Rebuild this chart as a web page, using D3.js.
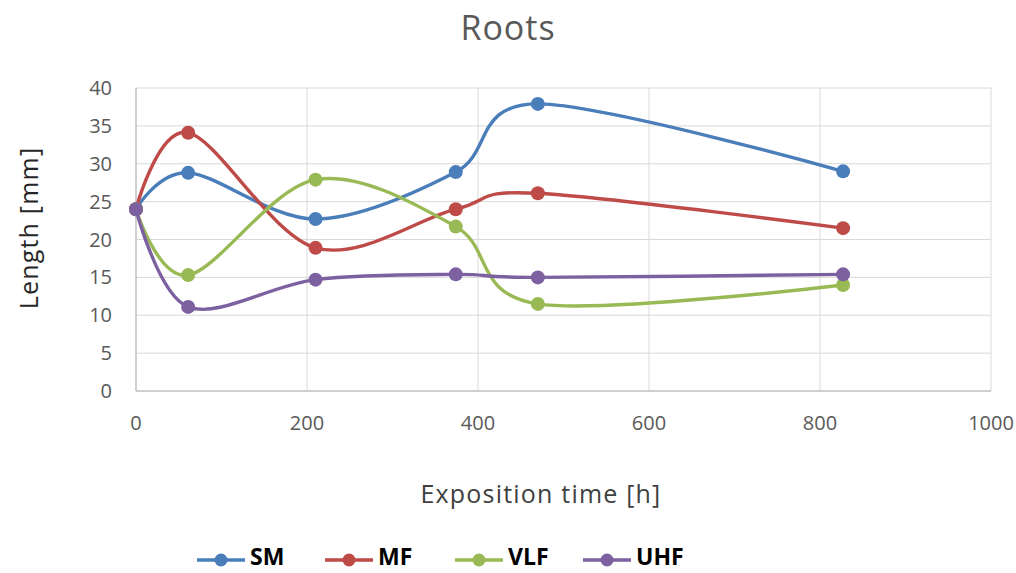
<!DOCTYPE html>
<html>
<head>
<meta charset="utf-8">
<script src="https://cdn.jsdelivr.net/npm/d3@7.9.0/dist/d3.min.js"></script>
<style>
  body { margin: 0; background: #fff; }
  svg { font-family: 'Open Sans', 'Liberation Sans', sans-serif; }
</style>
</head>
<body>
<svg width="1016" height="573"></svg>
<script>
// Data
const times = [0, 61, 210, 374, 470, 827];
const seriesNames = ['SM', 'MF', 'VLF', 'UHF'];
const smValues = [24, 28.8, 22.7, 28.9, 37.9, 29.0];
const mfValues = [24, 34.1, 18.9, 24.0, 26.1, 21.5];
const vlfValues = [24, 15.3, 27.9, 21.7, 11.5, 14.0];
const uhfValues = [24, 11.1, 14.7, 15.4, 15.0, 15.4];
const xTicks = [0, 200, 400, 600, 800, 1000];
const yTicks = [0, 5, 10, 15, 20, 25, 30, 35, 40];

const colors = ['#4A7EBB', '#BE4B48', '#98B954', '#7D60A0'];
const allValues = [smValues, mfValues, vlfValues, uhfValues];

const svg = d3.select('svg');

const x = d3.scaleLinear().domain([0, 1000]).range([136, 991]);
const y = d3.scaleLinear().domain([0, 40]).range([391, 88]);

// Gridlines
svg.append('g')
  .selectAll('line')
  .data(yTicks.slice(1))
  .join('line')
  .attr('x1', x(0)).attr('x2', x(1000))
  .attr('y1', (d) => y(d)).attr('y2', (d) => y(d))
  .attr('stroke', '#D9D9D9').attr('stroke-width', 1);

svg.append('g')
  .selectAll('line')
  .data(xTicks.slice(1))
  .join('line')
  .attr('x1', (d) => x(d)).attr('x2', (d) => x(d))
  .attr('y1', y(0)).attr('y2', y(40))
  .attr('stroke', '#D9D9D9').attr('stroke-width', 1);

// Axis lines
svg.append('line')
  .attr('x1', x(0)).attr('x2', x(1000)).attr('y1', y(0)).attr('y2', y(0))
  .attr('stroke', '#BFBFBF').attr('stroke-width', 1.5);
svg.append('line')
  .attr('x1', x(0)).attr('x2', x(0)).attr('y1', y(0)).attr('y2', y(40))
  .attr('stroke', '#BFBFBF').attr('stroke-width', 1.5);

// Tick labels
svg.append('g')
  .selectAll('text')
  .data(yTicks)
  .join('text')
  .attr('x', 112)
  .attr('y', (d) => y(d))
  .attr('dy', '0.35em')
  .attr('text-anchor', 'end')
  .attr('font-size', 20)
  .attr('fill', '#595959')
  .text((d) => d);

svg.append('g')
  .selectAll('text')
  .data(xTicks)
  .join('text')
  .attr('x', (d) => x(d))
  .attr('y', 430)
  .attr('text-anchor', 'middle')
  .attr('font-size', 20)
  .attr('fill', '#595959')
  .text((d) => d);

// Titles
svg.append('text')
  .attr('x', 508).attr('y', 40)
  .attr('text-anchor', 'middle')
  .attr('font-size', 34)
  .attr('letter-spacing', 1)
  .attr('fill', '#595959')
  .text('Roots');

svg.append('text')
  .attr('x', 541).attr('y', 503)
  .attr('text-anchor', 'middle')
  .attr('font-size', 25)
  .attr('letter-spacing', 1.2)
  .attr('fill', '#404040')
  .text('Exposition time [h]');

svg.append('text')
  .attr('transform', 'translate(38,228) rotate(-90)')
  .attr('text-anchor', 'middle')
  .attr('font-size', 25)
  .attr('letter-spacing', 1.2)
  .attr('fill', '#262626')
  .text('Length [mm]');

// Series
const line = d3.line()
  .x((d, i) => x(times[i]))
  .y((d) => y(d))
  .curve(d3.curveCardinal.tension(0));

allValues.forEach((vals, si) => {
  const g = svg.append('g');
  g.append('path')
    .attr('d', line(vals))
    .attr('fill', 'none')
    .attr('stroke', colors[si])
    .attr('stroke-width', 3.4)
    .attr('stroke-linejoin', 'round');
  g.selectAll('circle')
    .data(vals)
    .join('circle')
    .attr('cx', (d, i) => x(times[i]))
    .attr('cy', (d) => y(d))
    .attr('r', 7)
    .attr('fill', colors[si]);
});

// Legend
const legendX = [197, 325, 455, 583];
const legend = svg.append('g');
seriesNames.forEach((name, i) => {
  const lx = legendX[i];
  legend.append('line')
    .attr('x1', lx).attr('x2', lx + 48)
    .attr('y1', 560).attr('y2', 560)
    .attr('stroke', colors[i]).attr('stroke-width', 3.4);
  legend.append('circle')
    .attr('cx', lx + 24).attr('cy', 560).attr('r', 6.5)
    .attr('fill', colors[i]);
  legend.append('text')
    .attr('x', lx + 53).attr('y', 557)
    .attr('dy', '0.35em')
    .attr('font-size', 23)
    .attr('font-weight', 'bold')
    .attr('fill', '#000')
    .text(name);
});
</script>
</body>
</html>
